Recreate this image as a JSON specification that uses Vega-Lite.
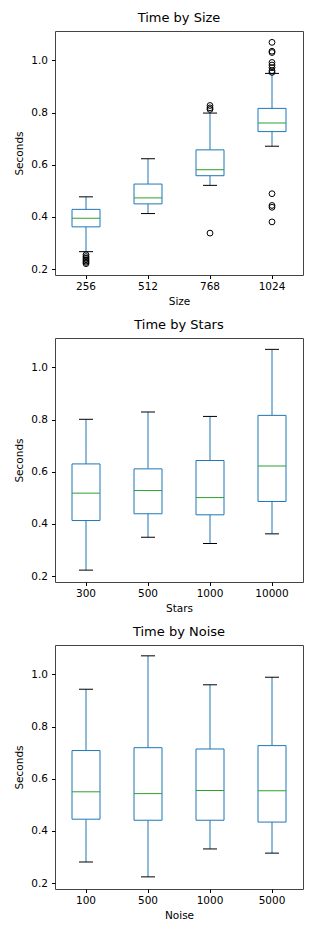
{
  "$schema": "https://vega.github.io/schema/vega-lite/v6.json",
  "background": "white",
  "padding": {"left": 14, "top": 11, "right": 5, "bottom": 5},
  "spacing": 11,
  "config": {
    "font": "DejaVu Sans",
    "view": {"stroke": "#444", "strokeWidth": 1},
    "axis": {"domain": false, "grid": false, "labelFont": "DejaVu Sans", "labelFontSize": 10.5, "labelColor": "#000", "titleFont": "DejaVu Sans", "titleFontSize": 10.5, "titleFontWeight": "normal", "titleColor": "#000", "tickColor": "#000", "tickSize": 3.5, "labelPadding": 3},
    "axisY": {"titlePadding": 6, "labelPadding": 4},
    "axisX": {"titlePadding": 4, "labelAngle": 0},
    "title": {"font": "DejaVu Sans", "fontSize": 13, "fontWeight": "normal", "color": "#000", "offset": 6}
  },
  "datasets": {
    "sizeBox": [
      {"Size": "256", "lower": 0.267, "q1": 0.362, "median": 0.395, "q3": 0.429, "upper": 0.477},
      {"Size": "512", "lower": 0.413, "q1": 0.450, "median": 0.473, "q3": 0.526, "upper": 0.623},
      {"Size": "768", "lower": 0.521, "q1": 0.558, "median": 0.581, "q3": 0.657, "upper": 0.798},
      {"Size": "1024", "lower": 0.671, "q1": 0.727, "median": 0.760, "q3": 0.816, "upper": 0.950}
    ],
    "sizeOut": [
      {"Size": "256", "Seconds": 0.255},
      {"Size": "256", "Seconds": 0.248},
      {"Size": "256", "Seconds": 0.242},
      {"Size": "256", "Seconds": 0.236},
      {"Size": "256", "Seconds": 0.231},
      {"Size": "256", "Seconds": 0.226},
      {"Size": "256", "Seconds": 0.221},
      {"Size": "768", "Seconds": 0.827},
      {"Size": "768", "Seconds": 0.818},
      {"Size": "768", "Seconds": 0.812},
      {"Size": "768", "Seconds": 0.338},
      {"Size": "1024", "Seconds": 1.069},
      {"Size": "1024", "Seconds": 1.035},
      {"Size": "1024", "Seconds": 1.030},
      {"Size": "1024", "Seconds": 0.992},
      {"Size": "1024", "Seconds": 0.982},
      {"Size": "1024", "Seconds": 0.972},
      {"Size": "1024", "Seconds": 0.960},
      {"Size": "1024", "Seconds": 0.954},
      {"Size": "1024", "Seconds": 0.489},
      {"Size": "1024", "Seconds": 0.444},
      {"Size": "1024", "Seconds": 0.437},
      {"Size": "1024", "Seconds": 0.381}
    ],
    "starsBox": [
      {"Stars": "300", "lower": 0.223, "q1": 0.413, "median": 0.518, "q3": 0.630, "upper": 0.801},
      {"Stars": "500", "lower": 0.349, "q1": 0.439, "median": 0.528, "q3": 0.611, "upper": 0.829},
      {"Stars": "1000", "lower": 0.325, "q1": 0.435, "median": 0.501, "q3": 0.643, "upper": 0.812},
      {"Stars": "10000", "lower": 0.362, "q1": 0.486, "median": 0.622, "q3": 0.816, "upper": 1.069}
    ],
    "noiseBox": [
      {"Noise": "100", "lower": 0.281, "q1": 0.445, "median": 0.550, "q3": 0.708, "upper": 0.943},
      {"Noise": "500", "lower": 0.224, "q1": 0.441, "median": 0.543, "q3": 0.719, "upper": 1.071},
      {"Noise": "1000", "lower": 0.331, "q1": 0.441, "median": 0.555, "q3": 0.714, "upper": 0.960},
      {"Noise": "5000", "lower": 0.315, "q1": 0.434, "median": 0.554, "q3": 0.727, "upper": 0.989}
    ]
  },
  "vconcat": [
    {
      "title": "Time by Size",
      "width": 248,
      "height": 244,
      "encoding": {
        "x": {"field": "Size", "type": "nominal", "sort": ["256", "512", "768", "1024"], "scale": {"paddingInner": 0, "paddingOuter": 0}, "axis": {"title": "Size"}}
      },
      "layer": [
        {"data": {"name": "sizeBox"}, "mark": {"type": "rule", "color": "#1f77b4", "strokeWidth": 1},
         "encoding": {"y": {"field": "lower", "type": "quantitative", "scale": {"domain": [0.1775, 1.1125], "nice": false, "zero": false}, "axis": {"title": "Seconds", "values": [0.2, 0.4, 0.6, 0.8, 1.0], "format": ".1f"}}, "y2": {"field": "q1"}}},
        {"data": {"name": "sizeBox"}, "mark": {"type": "rule", "color": "#1f77b4", "strokeWidth": 1},
         "encoding": {"y": {"field": "q3", "type": "quantitative"}, "y2": {"field": "upper"}}},
        {"data": {"name": "sizeBox"}, "mark": {"type": "bar", "width": 28, "fill": "white", "stroke": "#1f77b4", "strokeWidth": 1},
         "encoding": {"y": {"field": "q1", "type": "quantitative"}, "y2": {"field": "q3"}}},
        {"data": {"name": "sizeBox"}, "mark": {"type": "tick", "size": 28, "thickness": 1, "color": "#2ca02c", "opacity": 1},
         "encoding": {"y": {"field": "median", "type": "quantitative"}}},
        {"data": {"name": "sizeBox"}, "mark": {"type": "tick", "size": 14, "thickness": 1, "color": "#000", "opacity": 1},
         "encoding": {"y": {"field": "lower", "type": "quantitative"}}},
        {"data": {"name": "sizeBox"}, "mark": {"type": "tick", "size": 14, "thickness": 1, "color": "#000", "opacity": 1},
         "encoding": {"y": {"field": "upper", "type": "quantitative"}}},
        {"data": {"name": "sizeOut"}, "mark": {"type": "point", "shape": "circle", "filled": false, "stroke": "#000", "strokeWidth": 1, "size": 34, "opacity": 1},
         "encoding": {"y": {"field": "Seconds", "type": "quantitative"}}}
      ]
    },
    {
      "title": "Time by Stars",
      "width": 248,
      "height": 244,
      "encoding": {
        "x": {"field": "Stars", "type": "nominal", "sort": ["300", "500", "1000", "10000"], "scale": {"paddingInner": 0, "paddingOuter": 0}, "axis": {"title": "Stars"}}
      },
      "layer": [
        {"data": {"name": "starsBox"}, "mark": {"type": "rule", "color": "#1f77b4", "strokeWidth": 1},
         "encoding": {"y": {"field": "lower", "type": "quantitative", "scale": {"domain": [0.1775, 1.1125], "nice": false, "zero": false}, "axis": {"title": "Seconds", "values": [0.2, 0.4, 0.6, 0.8, 1.0], "format": ".1f"}}, "y2": {"field": "q1"}}},
        {"data": {"name": "starsBox"}, "mark": {"type": "rule", "color": "#1f77b4", "strokeWidth": 1},
         "encoding": {"y": {"field": "q3", "type": "quantitative"}, "y2": {"field": "upper"}}},
        {"data": {"name": "starsBox"}, "mark": {"type": "bar", "width": 28, "fill": "white", "stroke": "#1f77b4", "strokeWidth": 1},
         "encoding": {"y": {"field": "q1", "type": "quantitative"}, "y2": {"field": "q3"}}},
        {"data": {"name": "starsBox"}, "mark": {"type": "tick", "size": 28, "thickness": 1, "color": "#2ca02c", "opacity": 1},
         "encoding": {"y": {"field": "median", "type": "quantitative"}}},
        {"data": {"name": "starsBox"}, "mark": {"type": "tick", "size": 14, "thickness": 1, "color": "#000", "opacity": 1},
         "encoding": {"y": {"field": "lower", "type": "quantitative"}}},
        {"data": {"name": "starsBox"}, "mark": {"type": "tick", "size": 14, "thickness": 1, "color": "#000", "opacity": 1},
         "encoding": {"y": {"field": "upper", "type": "quantitative"}}}
      ]
    },
    {
      "title": "Time by Noise",
      "width": 248,
      "height": 244,
      "encoding": {
        "x": {"field": "Noise", "type": "nominal", "sort": ["100", "500", "1000", "5000"], "scale": {"paddingInner": 0, "paddingOuter": 0}, "axis": {"title": "Noise"}}
      },
      "layer": [
        {"data": {"name": "noiseBox"}, "mark": {"type": "rule", "color": "#1f77b4", "strokeWidth": 1},
         "encoding": {"y": {"field": "lower", "type": "quantitative", "scale": {"domain": [0.1775, 1.1125], "nice": false, "zero": false}, "axis": {"title": "Seconds", "values": [0.2, 0.4, 0.6, 0.8, 1.0], "format": ".1f"}}, "y2": {"field": "q1"}}},
        {"data": {"name": "noiseBox"}, "mark": {"type": "rule", "color": "#1f77b4", "strokeWidth": 1},
         "encoding": {"y": {"field": "q3", "type": "quantitative"}, "y2": {"field": "upper"}}},
        {"data": {"name": "noiseBox"}, "mark": {"type": "bar", "width": 28, "fill": "white", "stroke": "#1f77b4", "strokeWidth": 1},
         "encoding": {"y": {"field": "q1", "type": "quantitative"}, "y2": {"field": "q3"}}},
        {"data": {"name": "noiseBox"}, "mark": {"type": "tick", "size": 28, "thickness": 1, "color": "#2ca02c", "opacity": 1},
         "encoding": {"y": {"field": "median", "type": "quantitative"}}},
        {"data": {"name": "noiseBox"}, "mark": {"type": "tick", "size": 14, "thickness": 1, "color": "#000", "opacity": 1},
         "encoding": {"y": {"field": "lower", "type": "quantitative"}}},
        {"data": {"name": "noiseBox"}, "mark": {"type": "tick", "size": 14, "thickness": 1, "color": "#000", "opacity": 1},
         "encoding": {"y": {"field": "upper", "type": "quantitative"}}}
      ]
    }
  ]
}
